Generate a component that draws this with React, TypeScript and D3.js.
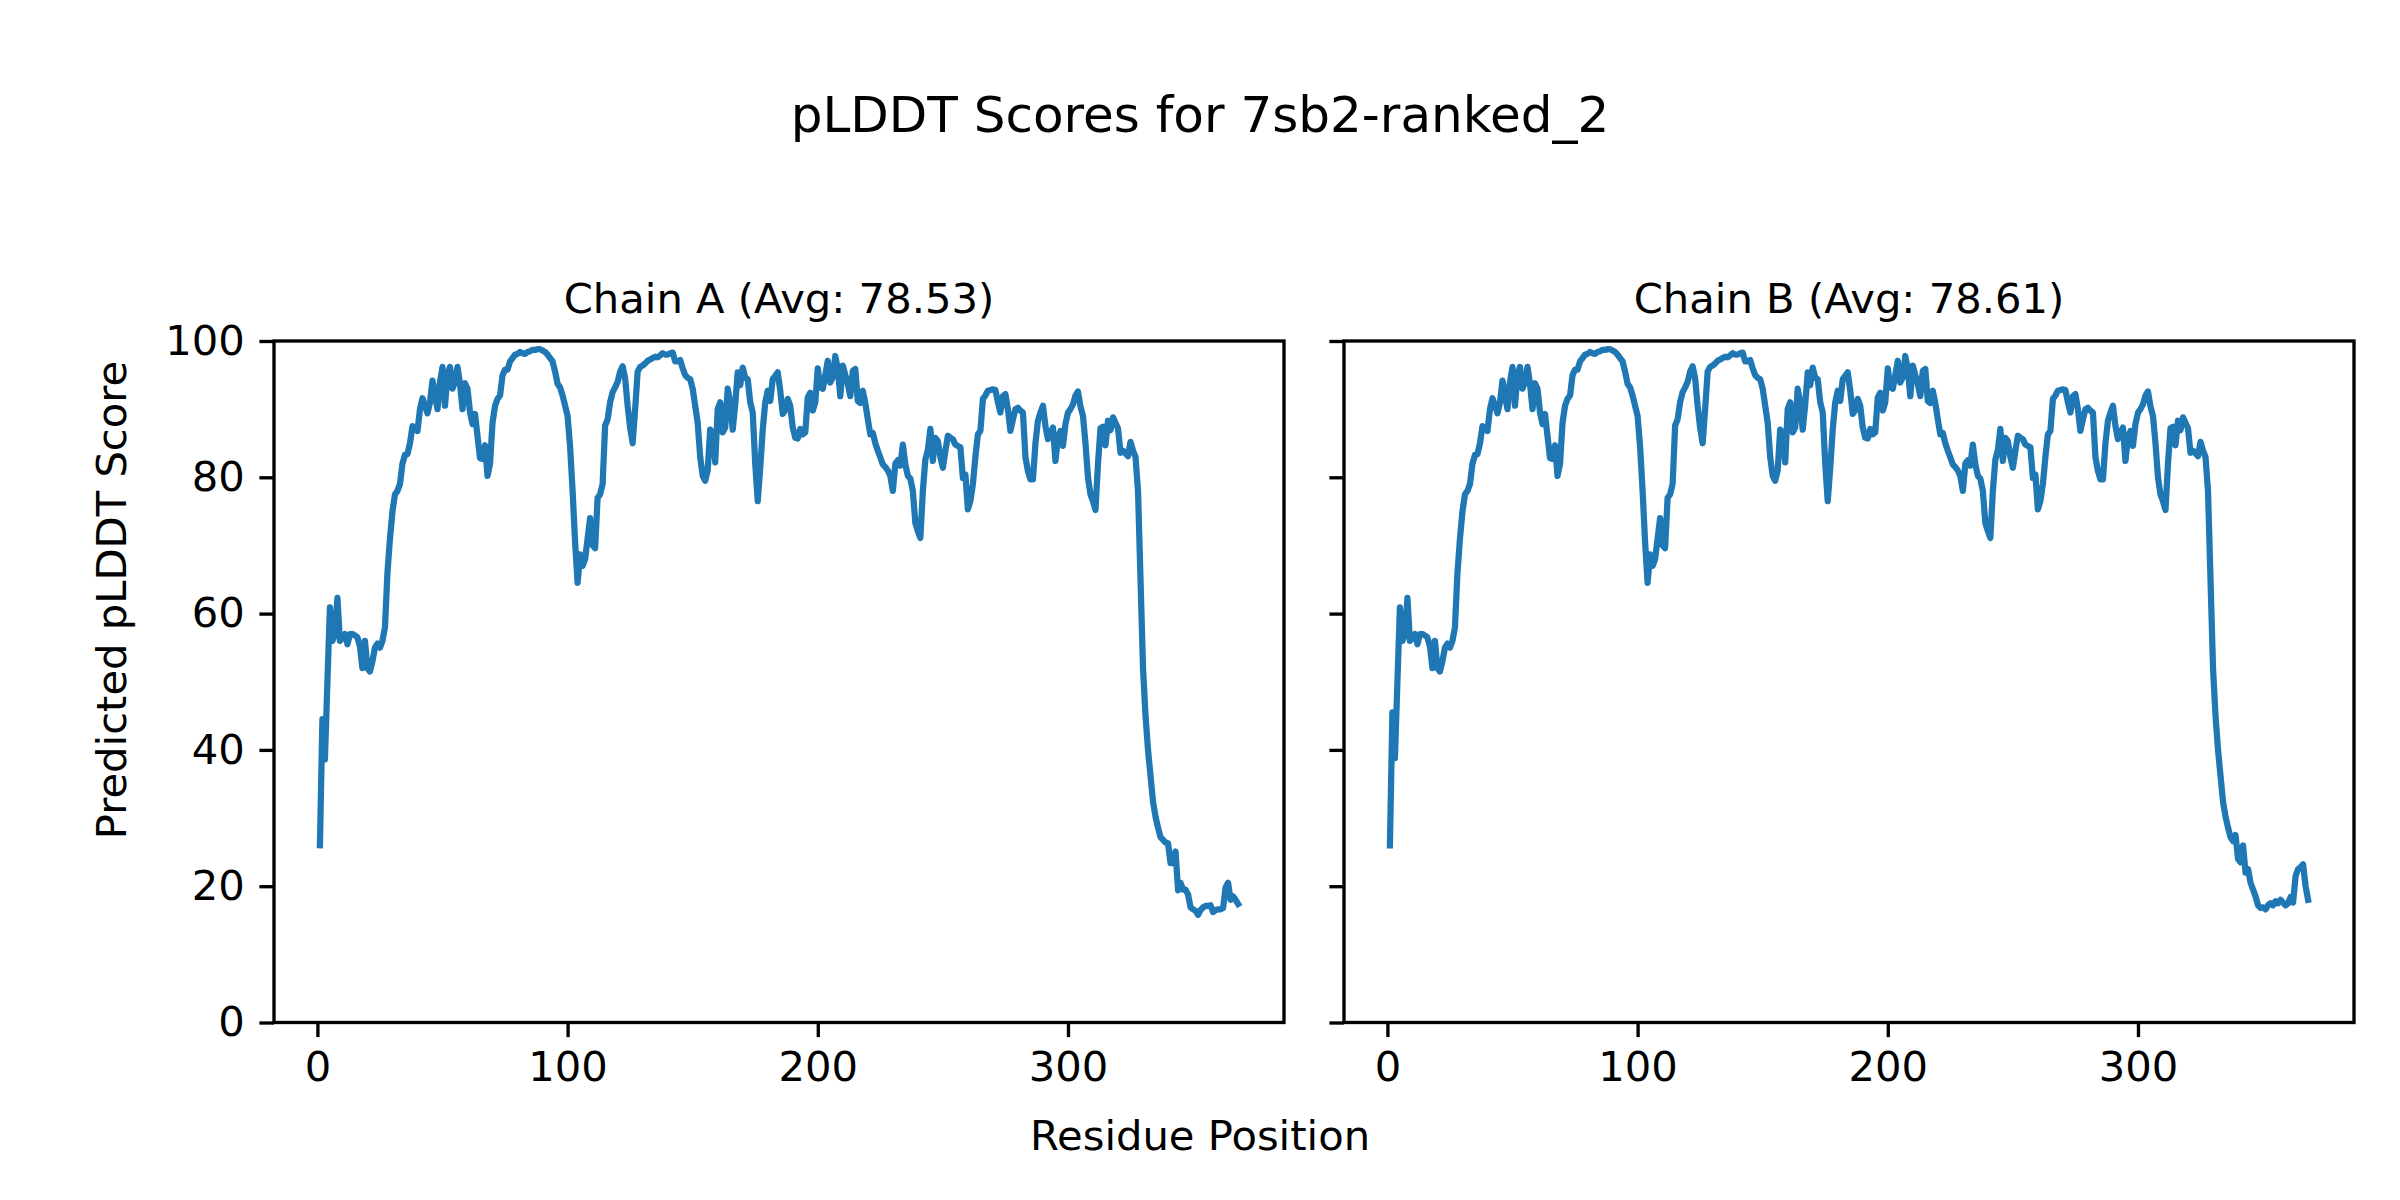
import { useEffect, useRef } from 'react';
import * as d3 from 'd3';

// pLDDT per residue (residues 1..368)
const chainA = [
  26, 44.5, 38.6, 50, 60.9, 56, 57, 62.3, 56, 56.5,
  57, 55.5, 57, 57, 56.8, 56.5, 55.2, 52, 56, 52,
  51.5, 53, 55, 55.6, 55, 56, 58, 66, 71, 75,
  77.5, 78, 79, 82, 83.3, 83.4, 85, 87.5, 87, 86.8,
  90, 91.6, 90.5, 89.4, 91, 94.2, 92, 90, 94, 96.2,
  90.5, 95, 96.2, 93, 94, 96.2, 93.7, 90, 93.8, 93,
  89.5, 87.8, 89.3, 86, 82.8, 82.7, 84.7, 80.2, 82, 88,
  90.5, 91.5, 92, 95, 95.8, 95.8, 97, 97.5, 98, 98.1,
  98.4, 98.2, 98.1, 98.4, 98.5, 98.7, 98.7, 98.8, 98.8, 98.6,
  98.4, 98, 97.5, 97, 95.5, 93.7, 93.2, 92, 90.5, 89,
  84.5, 78, 70.5, 64.5, 68.7, 67, 68, 71, 74, 70,
  69.6, 77, 77.5, 79, 87.6, 88.5, 91, 92.5, 93.2, 94,
  95.5, 96.3, 94.5, 90.5, 87.3, 85, 90, 95.5, 96.2, 96.4,
  96.7, 97.1, 97.3, 97.5, 97.7, 97.6, 97.9, 98.2, 98, 98,
  98.2, 98.3, 97, 97, 97.2, 96, 95, 94.6, 94.4, 93,
  90.5, 88, 83, 80.2, 79.5, 81, 87, 86.5, 82.2, 90,
  91, 86.6, 87.3, 93, 91, 87, 90.7, 95.4, 93.5, 96.1,
  94.6, 94.4, 91, 89.5, 82, 76.5, 81.4, 87, 91, 92.7,
  91.2, 94.4, 94.9, 95.4, 92.7, 89.3, 89.8, 91.5, 90.5, 87.3,
  85.8, 85.7, 87.1, 86.3, 86.6, 91.7, 92.4, 89.8, 91, 96,
  93.2, 93, 95, 97.1, 93.9, 94.7, 97.8, 95.9, 91.9, 96.4,
  95, 93.7, 91.9, 95.6, 95.9, 91.2, 90.9, 92.7, 90.9, 88.5,
  86.3, 86.5, 85, 83.9, 82.9, 81.9, 81.5, 81, 80.2, 78,
  82, 82.5, 81.7, 84.8, 81.9, 80.2, 79.8, 78, 73.3, 72.1,
  71.1, 78, 82.6, 84, 87.1, 82.4, 85.8, 85.3, 83, 81.4,
  83.9, 86.1, 85.8, 85.6, 84.8, 84.6, 84.4, 79.9, 80.4, 75.3,
  76.5, 79, 83, 86.3, 86.8, 91.5, 92, 92.7, 92.8, 92.9,
  92.8, 91, 89.5, 91.9, 92.2, 90, 86.8, 88.5, 90, 90.2,
  89.8, 89.5, 83, 80.9, 79.7, 79.7, 85, 88.3, 89.5, 90.5,
  87.5, 85.6, 86.5, 87.3, 82.4, 85.8, 86.8, 84.6, 87.8, 89.5,
  90, 90.7, 92, 92.6, 90.4, 89, 85, 80, 77.5, 76.5,
  75.2, 82, 87.2, 87.4, 84.7, 88.3, 86.9, 88.8, 88, 87.2,
  83.6, 83.9, 83.5, 83.1, 85.2, 83.9, 83, 78, 65, 52,
  45, 40, 36.2, 32.4, 30.2, 28.6, 27.2, 26.8, 26.4, 26.3,
  23.4, 23.4, 25.1, 19.4, 20.5, 19.5, 19.5, 18.8, 16.9, 16.6,
  16.4, 15.8, 16.5, 16.9, 17.1, 17.1, 17.2, 16.2, 16.5, 16.6,
  16.6, 16.8, 19.8, 20.5, 18, 18.5, 18, 17.4,
];

const chainB = [
  26, 45.5, 38.8, 50, 60.9, 56, 57, 62.3, 56, 56.5,
  57, 55.5, 57, 57, 56.8, 56.5, 55.2, 52, 56, 52,
  51.5, 53, 55, 55.6, 55, 56, 58, 66, 71, 75,
  77.5, 78, 79, 82, 83.3, 83.4, 85, 87.5, 87, 86.8,
  90, 91.6, 90.5, 89.4, 91, 94.2, 92, 90, 94, 96.2,
  90.5, 95, 96.2, 93, 94, 96.2, 93.7, 90, 93.8, 93,
  89.5, 87.8, 89.3, 86, 82.8, 82.7, 84.7, 80.2, 82, 88,
  90.5, 91.5, 92, 95, 95.8, 95.8, 97, 97.5, 98, 98.1,
  98.4, 98.2, 98.1, 98.4, 98.5, 98.7, 98.7, 98.8, 98.8, 98.6,
  98.4, 98, 97.5, 97, 95.5, 93.7, 93.2, 92, 90.5, 89,
  84.5, 78, 70.5, 64.5, 68.7, 67, 68, 71, 74, 70,
  69.6, 77, 77.5, 79, 87.6, 88.5, 91, 92.5, 93.2, 94,
  95.5, 96.3, 94.5, 90.5, 87.3, 85, 90, 95.5, 96.2, 96.4,
  96.7, 97.1, 97.3, 97.5, 97.7, 97.6, 97.9, 98.2, 98, 98,
  98.2, 98.3, 97, 97, 97.2, 96, 95, 94.6, 94.4, 93,
  90.5, 88, 83, 80.2, 79.5, 81, 87, 86.5, 82.2, 90,
  91, 86.6, 87.3, 93, 91, 87, 90.7, 95.4, 93.5, 96.1,
  94.6, 94.4, 91, 89.5, 82, 76.5, 81.4, 87, 91, 92.7,
  91.2, 94.4, 94.9, 95.4, 92.7, 89.3, 89.8, 91.5, 90.5, 87.3,
  85.8, 85.7, 87.1, 86.3, 86.6, 91.7, 92.4, 89.8, 91, 96,
  93.2, 93, 95, 97.1, 93.9, 94.7, 97.8, 95.9, 91.9, 96.4,
  95, 93.7, 91.9, 95.6, 95.9, 91.2, 90.9, 92.7, 90.9, 88.5,
  86.3, 86.5, 85, 83.9, 82.9, 81.9, 81.5, 81, 80.2, 78,
  82, 82.5, 81.7, 84.8, 81.9, 80.2, 79.8, 78, 73.3, 72.1,
  71.1, 78, 82.6, 84, 87.1, 82.4, 85.8, 85.3, 83, 81.4,
  83.9, 86.1, 85.8, 85.6, 84.8, 84.6, 84.4, 79.9, 80.4, 75.3,
  76.5, 79, 83, 86.3, 86.8, 91.5, 92, 92.7, 92.8, 92.9,
  92.8, 91, 89.5, 91.9, 92.2, 90, 86.8, 88.5, 90, 90.2,
  89.8, 89.5, 83, 80.9, 79.7, 79.7, 85, 88.3, 89.5, 90.5,
  87.5, 85.6, 86.5, 87.3, 82.4, 85.8, 86.8, 84.6, 87.8, 89.5,
  90, 90.7, 92, 92.6, 90.4, 89, 85, 80, 77.5, 76.5,
  75.2, 82, 87.2, 87.4, 84.7, 88.3, 86.9, 88.8, 88, 87.2,
  83.6, 83.9, 83.5, 83.1, 85.2, 83.9, 83, 78, 65, 52,
  45, 40, 36.2, 32.4, 30.2, 28.6, 27.2, 26.6, 27.5, 24,
  23.5, 26, 22, 22.5, 20.5, 19.5, 18.5, 17.2, 16.8, 16.9,
  16.6, 17.2, 17.5, 17.2, 17.8, 17.5, 18, 17.6, 17.2, 17.5,
  18.4, 17.6, 21.5, 22.5, 22.8, 23.2, 20, 18,
];

const chainNames = ['A', 'B'];
const chainAvgs = ['78.53', '78.61'];
const yTicks = [0, 20, 40, 60, 80, 100];
const xTicks = [0, 100, 200, 300];

const W = 2400;
const H = 1200;
const TOP = 341;
const BOTTOM = 1022.5;
const PANELS = [
  { left: 274, right: 1284 },
  { left: 1344, right: 2354 },
];
const FONT = '"DejaVu Sans", Verdana, sans-serif';
const LINE = '#1f77b4';

export default function App() {
  const svgRef = useRef<SVGSVGElement>(null);

  useEffect(() => {
    if (!svgRef.current) return;
    const svg = d3.select(svgRef.current);
    svg.selectAll('*').remove();

    svg.append('rect').attr('width', W).attr('height', H).attr('fill', '#fff');

    const series = [chainA, chainB];
    const y = d3.scaleLinear().domain([0, 100]).range([BOTTOM, TOP]);

    series.forEach((data, k) => {
      const { left, right } = PANELS[k];
      const n = data.length;
      const pad = (n - 1) * 0.05;
      const x = d3.scaleLinear().domain([1 - pad, n + pad]).range([left, right]);
      const g = svg.append('g');

      const line = d3
        .line<number>()
        .x((_, i) => x(i + 1))
        .y((d) => y(d));

      g.append('path')
        .datum(data)
        .attr('d', line)
        .attr('fill', 'none')
        .attr('stroke', LINE)
        .attr('stroke-width', 6.25)
        .attr('stroke-linejoin', 'round')
        .attr('stroke-linecap', 'square');

      // x axis
      const xAxis = g
        .append('g')
        .attr('transform', `translate(0,${BOTTOM})`)
        .call(d3.axisBottom(x).tickValues(xTicks).tickSize(14.6).tickPadding(14.6));
      xAxis.select('.domain').remove();
      xAxis.selectAll('line').attr('stroke', '#000').attr('stroke-width', 3.33);
      xAxis.selectAll('text').attr('font-family', FONT).attr('font-size', 41.7).attr('fill', '#000');

      // y axis (labels only on the first panel)
      const yAxis = g
        .append('g')
        .attr('transform', `translate(${left},0)`)
        .call(
          d3
            .axisLeft(y)
            .tickValues(yTicks)
            .tickSize(14.6)
            .tickPadding(14.6)
            .tickFormat((d) => (k === 0 ? String(d) : ''))
        );
      yAxis.select('.domain').remove();
      yAxis.selectAll('line').attr('stroke', '#000').attr('stroke-width', 3.33);
      yAxis.selectAll('text').attr('font-family', FONT).attr('font-size', 41.7).attr('fill', '#000');

      // frame
      g.append('rect')
        .attr('x', left)
        .attr('y', TOP)
        .attr('width', right - left)
        .attr('height', BOTTOM - TOP)
        .attr('fill', 'none')
        .attr('stroke', '#000')
        .attr('stroke-width', 3.33);

      g.append('text')
        .attr('x', (left + right) / 2)
        .attr('y', 313)
        .attr('text-anchor', 'middle')
        .attr('font-family', FONT)
        .attr('font-size', 41.7)
        .text(`Chain ${chainNames[k]} (Avg: ${chainAvgs[k]})`);
    });

    svg
      .append('text')
      .attr('x', W / 2)
      .attr('y', 132)
      .attr('text-anchor', 'middle')
      .attr('font-family', FONT)
      .attr('font-size', 50)
      .text('pLDDT Scores for 7sb2-ranked_2');

    svg
      .append('text')
      .attr('x', W / 2)
      .attr('y', 1150)
      .attr('text-anchor', 'middle')
      .attr('font-family', FONT)
      .attr('font-size', 41.7)
      .text('Residue Position');

    svg
      .append('text')
      .attr('transform', `translate(126,${H / 2}) rotate(-90)`)
      .attr('text-anchor', 'middle')
      .attr('font-family', FONT)
      .attr('font-size', 41.7)
      .text('Predicted pLDDT Score');
  }, []);

  return (
    <svg
      ref={svgRef}
      width={W}
      height={H}
      style={{ position: 'absolute', left: 0, top: 0, display: 'block' }}
    />
  );
}
